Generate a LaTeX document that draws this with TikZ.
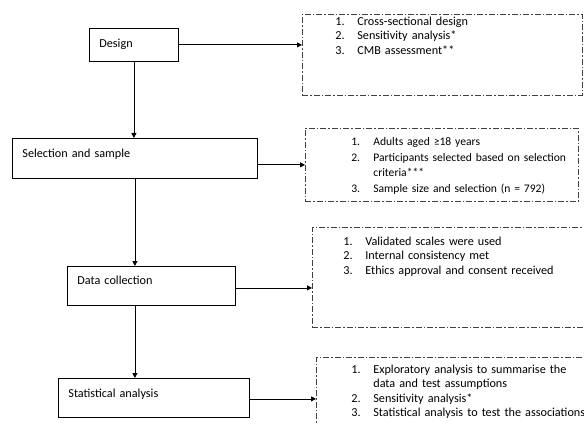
\documentclass[tikz,border=0pt]{standalone}
\usepackage{fontspec}
\setmainfont{Carlito}
\usetikzlibrary{arrows.meta, positioning}
\tikzset{
  stage/.style={draw, line width=0.8pt, anchor=north west, inner xsep=10pt, inner ysep=0pt,
    text height=19pt, align=left},
  notebox/.style={draw=black!75, line width=0.7pt, dash pattern=on 6pt off 2pt on 1.5pt off 2pt,
    anchor=north west, inner sep=0pt, align=left},
  flow/.style={line width=0.8pt, -{Triangle[length=5pt,width=5pt]}}
}
\newcommand{\itemlist}[2]{\begin{tabular}[t]{@{\hspace{#1}}p{22pt}@{}l@{}}#2\end{tabular}}

\begin{document}
\begin{tikzpicture}[x=1pt, y=-1pt, font=\fontsize{12.2}{14.5}\selectfont]
    \useasboundingbox (0,0) rectangle (584,425);
    \clip (0,0) rectangle (584,425);
    % stages
    \node[stage, text width=69pt, text depth=14pt] (design) at (89,28) {Design};
    \node[stage, text width=225pt, text depth=21pt] (select) at (12,138) {Selection and sample};
    \node[stage, text width=148pt, text depth=21pt, text height=18pt] (collect) at (67,266) {Data collection};
    \node[stage, text width=171pt, text depth=20pt] (analysis) at (58,378) {Statistical analysis};
    % notes
    \node[notebox, text width=280pt, text height=11pt, text depth=70pt] (d1) at (302,14)
        {\itemlist{33pt}{1. & Cross-sectional design\\ 2. & Sensitivity analysis*\\ 3. & CMB assessment**}};
    \node[notebox, text width=273pt, text height=17pt, text depth=56pt, font=\fontsize{11.6}{14.5}\selectfont] (d2) at (305,128)
        {\itemlist{46pt}{1. & Adults aged ≥18 years\\[2pt] 2. & Participants selected based on selection\\ & criteria***\\[2pt] 3. & Sample size and selection (n = 792)}};
    \node[notebox, text width=290pt, text height=18pt, text depth=82pt] (d3) at (312,227)
        {\itemlist{31pt}{1. & Validated scales were used\\ 2. & Internal consistency met\\ 3. & Ethics approval and consent received}};
    \node[notebox, text width=290pt, text height=16pt, text depth=84pt] (d4) at (316,357)
        {\itemlist{35pt}{1. & Exploratory analysis to summarise the\\ & data and test assumptions\\ 2. & Sensitivity analysis*\\ 3. & Statistical analysis to test the associations}};
    % connectors
    \draw[flow] (design.south) -- (design.south |- select.north);
    \draw[flow] (select.south) -- (select.south |- collect.north);
    \draw[flow] (select.south |- collect.south) -- (select.south |- analysis.north);
    \draw[flow] (design.east) -- (design.east -| d1.west);
    \draw[flow] (select.east |- d2.west) -- (d2.west);
    \draw[flow] ([yshift=-2pt]collect.east) -- ([yshift=-2pt]collect.east -| d3.west);
    \draw[flow] ([yshift=-1pt]analysis.east) -- ([yshift=-1pt]analysis.east -| d4.west);
\end{tikzpicture}
\end{document}
